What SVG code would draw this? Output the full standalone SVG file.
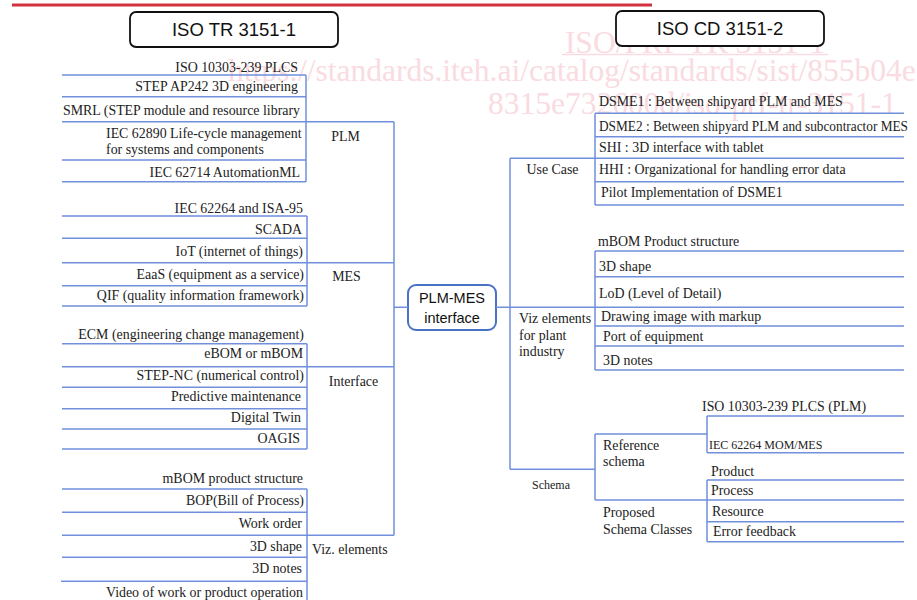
<svg xmlns="http://www.w3.org/2000/svg" width="917" height="600" viewBox="0 0 917 600">
<style>
.t{font-family:"Liberation Serif","DejaVu Serif",serif;font-size:13.9px;fill:#222}
.e{text-anchor:end}
.s{font-family:"Liberation Sans","Open Sans",sans-serif;fill:#111}
.sm{font-size:12px}
.ln{stroke:#7090dd;stroke-width:1.5;fill:none}
.wm{font-family:"Liberation Serif","DejaVu Serif",serif;font-size:31.5px;fill:#f9dbe1}
</style>
<rect width="917" height="600" fill="#fff"/>
<g id="watermark">
<text class="wm" x="695" y="53" text-anchor="middle" font-size="30.5">ISO/PRF TR 3151-1</text>
<line x1="562" y1="54.5" x2="828" y2="54.5" stroke="#f9dbe1" stroke-width="1.5"/>
<text class="wm" x="228" y="81">https://standards.iteh.ai/catalog/standards/sist/855b04e</text>
<text class="wm" x="488" y="114">8315e732600d/iso-prf-tr-3151-1</text>
</g>
<rect id="topbar" x="12" y="3.5" width="640" height="3" fill="#d1323b"/>
<g id="title1"><rect x="130" y="12" width="208" height="35" rx="6" fill="#fff" stroke="#111" stroke-width="1.8"/><text class="s" x="234" y="36" font-size="18.5" text-anchor="middle">ISO TR 3151-1</text></g>
<g id="title2"><rect x="616" y="11" width="208" height="35" rx="6" fill="#fff" stroke="#111" stroke-width="1.8"/><text class="s" x="720" y="35" font-size="18.5" text-anchor="middle">ISO CD 3151-2</text></g>
<g id="center"><rect x="408" y="285" width="88" height="45" rx="8" fill="#fff" stroke="#4a72c4" stroke-width="2"/><text class="s" x="452" y="302.5" font-size="14.5" text-anchor="middle">PLM-MES</text><text class="s" x="452" y="323" font-size="14.5" text-anchor="middle">interface</text></g>
<g id="connectors" class="ln">
<path d="M394 122V535.3M306 121.7H394M307 262.7H394M307 366.7H394M307 535.3H394M394 307.3H408"/>
<path d="M496 307.3H595M510 158.3V469.3M510 158.3H595M510 469.3H595"/>
<path d="M595 434V500M595 434H707M595 500H707"/>
</g>
<g id="plm">
<path class="ln" d="M62 75H306M62 96.7H306M62 121.7H306M62 160H306M62 181.7H306M306 75V181.7"/>
<text class="t e" x="298" y="71.5">ISO 10303-239 PLCS</text>
<text class="t e" x="298" y="90.5">STEP AP242 3D engineering</text>
<text class="t e" x="300" y="114.5">SMRL (STEP module and resource library</text>
<text class="t" x="106" y="137.5">IEC 62890 Life-cycle management</text>
<text class="t" x="106" y="153.5">for systems and components</text>
<text class="t e" x="300" y="176.5">IEC 62714 AutomationML</text>
<text class="t" x="345.5" y="140.5" text-anchor="middle">PLM</text>
</g>
<g id="mes">
<path class="ln" d="M62 216H307M62 238.3H307M62 262.7H307M62 285.7H307M62 306H307M307 216V306"/>
<text class="t e" x="303" y="212.8">IEC 62264 and ISA-95</text>
<text class="t e" x="302" y="233.5">SCADA</text>
<text class="t e" x="303" y="255.5">IoT (internet of things)</text>
<text class="t e" x="304" y="278.5">EaaS (equipment as a service)</text>
<text class="t e" x="304" y="299.8">QIF (quality information framework)</text>
<text class="t" x="346.5" y="280.5" text-anchor="middle">MES</text>
</g>
<g id="interface">
<path class="ln" d="M62 343.7H307M62 366.7H307M62 387.3H307M62 408.7H307M62 429H307M62 449H307M307 343.7V449"/>
<text class="t e" x="304" y="338.5">ECM (engineering change management)</text>
<text class="t e" x="303" y="357.8">eBOM or mBOM</text>
<text class="t e" x="304" y="380">STEP-NC (numerical control)</text>
<text class="t e" x="301" y="401">Predictive maintenance</text>
<text class="t e" x="301" y="422">Digital Twin</text>
<text class="t e" x="300" y="443">OAGIS</text>
<text class="t" x="353.5" y="385.5" text-anchor="middle">Interface</text>
</g>
<g id="vizleft">
<path class="ln" d="M62 489H307M62 512.3H307M62 535.3H307M62 557.3H307M61 581.3H307M307 489V600"/>
<text class="t e" x="303" y="482.8">mBOM product structure</text>
<text class="t e" x="304" y="504.8">BOP(Bill of Process)</text>
<text class="t e" x="302" y="527.8">Work order</text>
<text class="t e" x="302" y="550.5">3D shape</text>
<text class="t e" x="302" y="572.8">3D notes</text>
<text class="t e" x="303" y="596.5">Video of work or product operation</text>
<text class="t" x="312" y="553.5">Viz. elements</text>
</g>
<g id="usecase">
<path class="ln" d="M595 113.3H904M595 136.7H904M595 158.3H904M595 181.7H904M595 205H904M595 113.3V205"/>
<text class="t" x="599" y="106">DSME1 : Between shipyard PLM and MES</text>
<text class="t" x="599" y="131" textLength="309" lengthAdjust="spacingAndGlyphs">DSME2 : Between shipyard PLM and subcontractor MES</text>
<text class="t" x="599" y="152">SHI : 3D interface with tablet</text>
<text class="t" x="599" y="173.5">HHI : Organizational for handling error data</text>
<text class="t" x="601" y="196.5">Pilot Implementation of DSME1</text>
<text class="t" x="552.5" y="173.5" text-anchor="middle">Use Case</text>
</g>
<g id="vizplant">
<path class="ln" d="M595 251H904M595 276.7H904M595 307.3H904M595 326H904M595 346H904M595 370H904M595 251V370"/>
<text class="t" x="598" y="246">mBOM Product structure</text>
<text class="t" x="599" y="270.5">3D shape</text>
<text class="t" x="599" y="297.5">LoD (Level of Detail)</text>
<text class="t" x="601" y="320.5">Drawing image with markup</text>
<text class="t" x="603" y="341">Port of equipment</text>
<text class="t" x="603" y="364.5">3D notes</text>
<text class="t" x="519" y="322.5">Viz elements</text>
<text class="t" x="519" y="339.5">for plant</text>
<text class="t" x="519" y="355.5">industry</text>
</g>
<g id="schema">
<text class="t sm" x="551" y="489" text-anchor="middle" font-size="11.5">Schema</text>
<text class="t" x="603" y="449.5">Reference</text>
<text class="t" x="603" y="466">schema</text>
<text class="t" x="603" y="517">Proposed</text>
<text class="t" x="603" y="533.5">Schema Classes</text>
</g>
<g id="refschema">
<path class="ln" d="M707 416H904M707 452.7H904M707 416V452.7"/>
<text class="t" x="702" y="411">ISO 10303-239 PLCS (PLM)</text>
<text class="t sm" x="709" y="448.5">IEC 62264 MOM/MES</text>
</g>
<g id="classes">
<path class="ln" d="M707 480H904M707 500H904M707 521.7H904M707 541.7H904M707 480V541.7"/>
<text class="t" x="711" y="476">Product</text>
<text class="t" x="711" y="495">Process</text>
<text class="t" x="712" y="515.5">Resource</text>
<text class="t" x="713" y="536">Error feedback</text>
</g>
</svg>
